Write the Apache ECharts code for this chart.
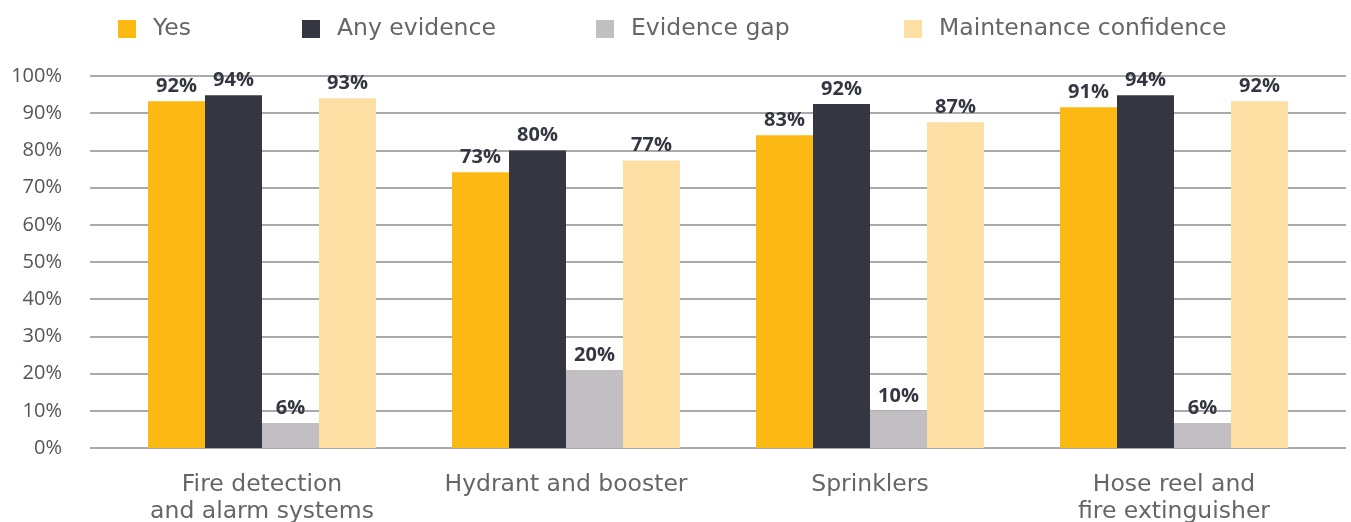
<!DOCTYPE html>
<html>
<head>
<meta charset="utf-8">
<script src="https://cdn.jsdelivr.net/npm/echarts@6/dist/echarts.min.js"></script>
<style>html,body{margin:0;padding:0;background:#fff}#c{width:1351px;height:522px}</style>
</head>
<body>
<div id="c"></div>
<script>
const categories = ['Fire detection\nand alarm systems', 'Hydrant and booster', 'Sprinklers', 'Hose reel and\nfire extinguisher'];
const seriesNames = ['Yes', 'Any evidence', 'Evidence gap', 'Maintenance confidence'];
const yesValues = [93.2, 74.1, 84.1, 91.6];
const anyEvidenceValues = [94.8, 80.0, 92.5, 94.8];
const evidenceGapValues = [6.7, 21.0, 10.0, 6.7];
const maintenanceValues = [94.0, 77.3, 87.6, 93.2];
const yesLabels = ['92%', '73%', '83%', '91%'];
const anyEvidenceLabels = ['94%', '80%', '92%', '94%'];
const evidenceGapLabels = ['6%', '20%', '10%', '6%'];
const maintenanceLabels = ['93%', '77%', '87%', '92%'];
const yTicks = [0, 10, 20, 30, 40, 50, 60, 70, 80, 90, 100];

const colors = ['#FDB913', '#343741', '#C1BFC2', '#FDDFA3'];
const FONT = 'Open Sans';
const TFONT = 'DejaVu Sans';
const valuesList = [yesValues, anyEvidenceValues, evidenceGapValues, maintenanceValues];
const labelsList = [yesLabels, anyEvidenceLabels, evidenceGapLabels, maintenanceLabels];
const legendLefts = [113, 297, 591, 899];

const chart = echarts.init(document.getElementById('c'), null, {renderer: 'canvas'});
chart.setOption({
  animation: false,
  color: colors,
  legend: seriesNames.map((n, i) => ({
    data: [n], left: legendLefts[i], top: 12, itemWidth: 18, itemHeight: 18,
    icon: 'rect', itemGap: 0,
    textStyle: {fontFamily: TFONT, fontSize: 23.5, color: '#666666', padding: [0, 0, 0, 12]}
  })),
  grid: [
    {left: 90, right: 5, top: 76, bottom: 74, outerBoundsMode: 'none', containLabel: false},
    {left: 110, right: 25, top: 76, bottom: 74, outerBoundsMode: 'none', containLabel: false}
  ],
  xAxis: [
    {gridIndex: 0, type: 'value', show: false, min: 0, max: 1},
    {gridIndex: 1, type: 'category', data: categories,
     axisLine: {show: false}, axisTick: {show: false},
     axisLabel: {interval: 0, hideOverlap: false, fontFamily: TFONT, fontSize: 23.5, color: '#666666', margin: 23, lineHeight: 27}}
  ],
  yAxis: [
    {gridIndex: 0, type: 'value', min: 0, max: 100, interval: 10,
     axisLine: {show: false}, axisTick: {show: false},
     axisLabel: {fontFamily: FONT, fontSize: 20, color: '#555555', margin: 28,
       formatter: v => yTicks.includes(v) ? v + '%' : ''},
     splitLine: {lineStyle: {color: '#8e8e93', width: 1.5}}},
    {gridIndex: 1, type: 'value', min: 0, max: 100, interval: 10, show: false, splitLine: {show: false}}
  ],
  series: seriesNames.map((n, i) => ({
    name: n, type: 'bar', xAxisIndex: 1, yAxisIndex: 1,
    data: valuesList[i], barGap: '0%', barCategoryGap: '25%',
    itemStyle: {color: colors[i]},
    label: {show: true, position: 'top', distance: 5, fontFamily: FONT, fontSize: 20,
      fontWeight: 'bold', color: '#343741',
      formatter: p => labelsList[i][p.dataIndex]}
  }))
});
</script>
</body>
</html>
